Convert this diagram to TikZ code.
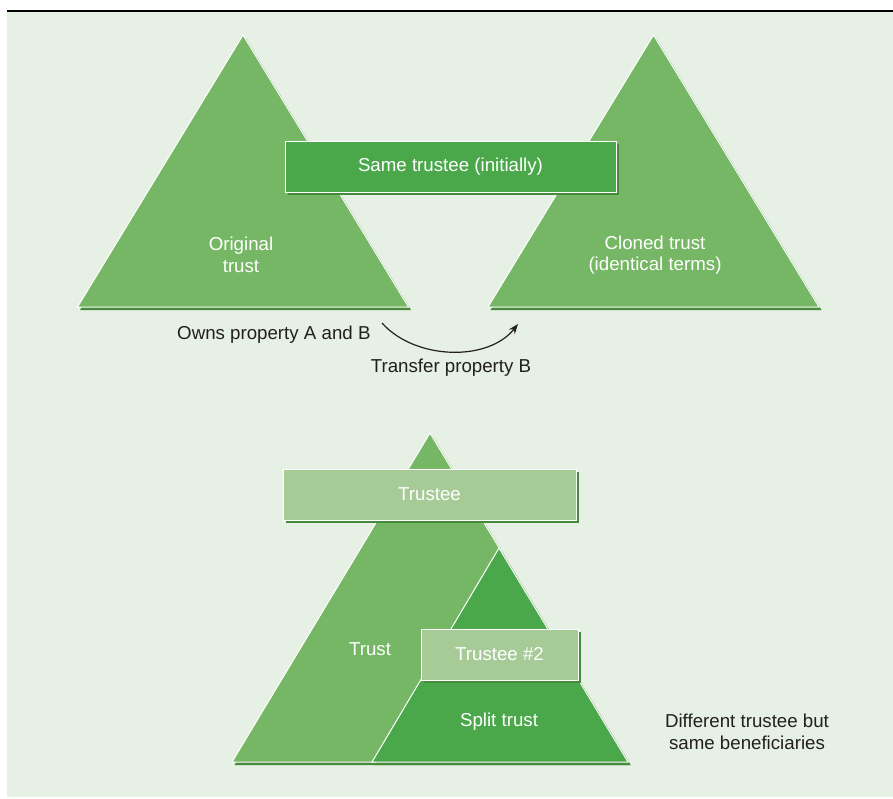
\documentclass[tikz,border=0pt]{standalone}
\usepackage{fontspec}
\setmainfont{Liberation Sans}
\usetikzlibrary{arrows.meta,shadows}
\definecolor{bg}{HTML}{E6F0E4}
\definecolor{trigreen}{HTML}{76B765}
\definecolor{boxgreen}{HTML}{4AA84A}
\definecolor{lightbox}{HTML}{A7CB97}
\definecolor{shadowgreen}{HTML}{468A3C}
\definecolor{inkc}{HTML}{231F20}
\tikzset{
  tri/.style={fill=trigreen, draw=white, line width=1pt},
  tridark/.style={fill=boxgreen, draw=white, line width=1pt},
  trishadow/.style={fill=shadowgreen, shift={(2.5,3)}},
  boxshadow/.style={drop shadow={shadow xshift=3pt, shadow yshift=-3pt, fill=shadowgreen, opacity=1}},
  darkbox/.style={fill=boxgreen, draw=white, line width=1pt, boxshadow, text=white, minimum height=51pt, inner sep=0pt},
  lightboxs/.style={fill=lightbox, draw=white, line width=1pt, boxshadow, text=white, minimum height=51pt, inner sep=0pt},
  intext/.style={text=white, align=center, inner sep=0pt},
  outtext/.style={text=inkc, align=center, inner sep=0pt},
}
\begin{document}
\begin{tikzpicture}[x=1pt,y=-1pt,font=\fontsize{18.7}{21.5}\selectfont]
\useasboundingbox (0,0) rectangle (893,798);
\fill[white] (0,0) rectangle (893,798);
\fill[bg] (7,12) rectangle (893,797);
\draw[black, line width=1.5pt] (7,11) -- (893,11);

% upper left triangle
\fill[trishadow] (243,35) -- (408.5,307) -- (77.5,307) -- cycle;
\path[tri] (243,35) -- (408.5,307) -- (77.5,307) -- cycle;
% upper right triangle
\fill[trishadow] (653.5,35) -- (819,307) -- (488,307) -- cycle;
\path[tri] (653.5,35) -- (819,307) -- (488,307) -- cycle;

\node[darkbox, minimum width=331pt] (same) at (450.5,166.5) {Same trustee (initially)};
\node[intext] (orig) at (241,255) {Original\\trust};
\node[intext] (clone) at (655,255) {Cloned trust\\(identical terms)};

\node[outtext, anchor=west] (owns) at (177,335) {Owns property A and B};
\node[outtext] (transfer) at (451,368) {Transfer property B};
\coordinate (arrA) at (382,323);
\coordinate (arrB) at (518,324);
\draw[inkc, line width=1.2pt, -{Stealth[length=10pt,width=7.5pt]}] (arrA) .. controls (415,360) and (488,362) .. (arrB);

% bottom big triangle
\fill[trishadow] (430,433) -- (628,762) -- (232,762) -- cycle;
\path[tri] (430,433) -- (628,762) -- (232,762) -- cycle;
\fill[trishadow] (499,548) -- (628,762) -- (372,762) -- cycle;
\path[tridark] (499,548) -- (628,762) -- (372,762) -- cycle;

\node[lightboxs, minimum width=293pt] (trustee) at (429.5,494.5) {Trustee};
\node[lightboxs, minimum width=157pt] (trustee2) at (499.5,654.5) {Trustee \#2};
\node[intext] (trust) at (370,649) {Trust};
\node[intext] (split) at (499,722) {Split trust};
\node[outtext] (diff) at (747,732) {Different trustee but\\same beneficiaries};
\end{tikzpicture}
\end{document}
